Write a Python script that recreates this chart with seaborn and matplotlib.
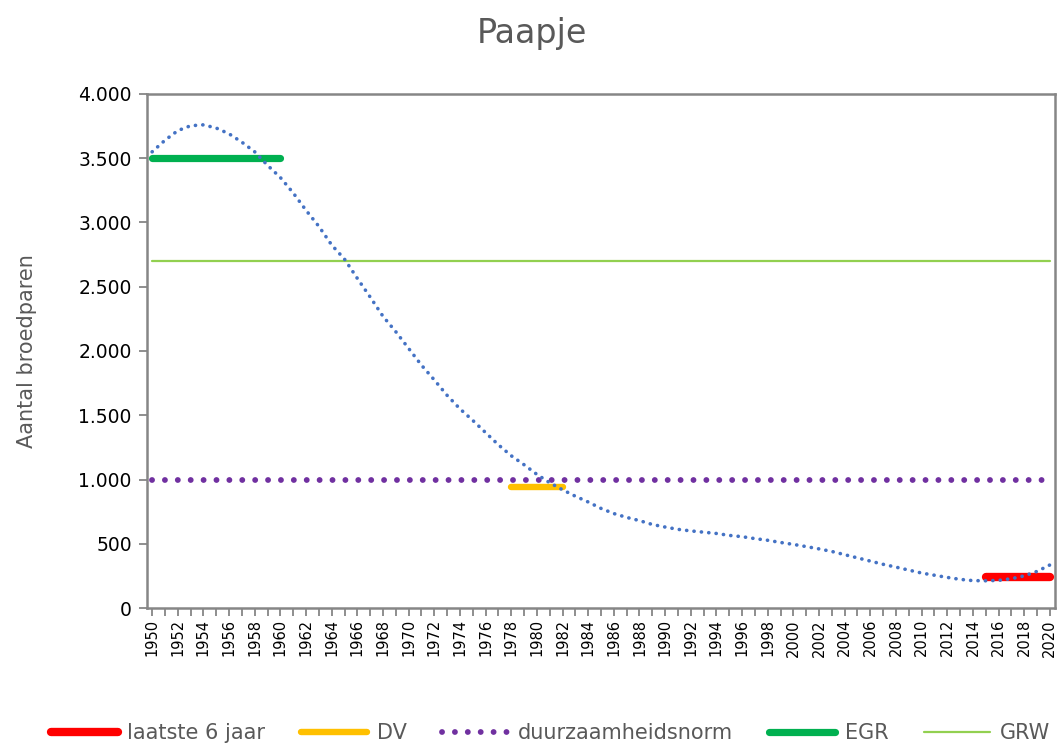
import numpy as np
import pandas as pd
import matplotlib
matplotlib.use('Agg')
import matplotlib.pyplot as plt
from matplotlib.ticker import FuncFormatter, MultipleLocator
import seaborn as sns

# trend line (blue dotted), one value per year
years = list(range(1950, 2021))
trend = [3550, 3640, 3715, 3753, 3760, 3735, 3690, 3625, 3550, 3445,
         3350, 3230, 3095, 2970, 2825, 2715, 2565, 2420, 2270, 2150,
         2020, 1890, 1775, 1655, 1550, 1460, 1365, 1270, 1185, 1115,
         1040, 975, 920, 870, 825, 775, 735, 705, 680, 650,
         630, 612, 600, 590, 580, 565, 555, 540, 527, 510,
         495, 478, 460, 440, 415, 390, 365, 340, 318, 295,
         272, 255, 238, 223, 213, 212, 215, 228, 250, 285,
         335]

# reference levels
last6_years = [2015, 2020]
last6_value = 245
dv_years = [1978, 1982]
dv_value = 940
norm_value = 1000
egr_years = [1950, 1960]
egr_value = 3500
grw_years = [1950, 2020]
grw_value = 2700

trend_df = pd.DataFrame({'jaar': years, 'aantal': trend})
norm_df = pd.DataFrame({'jaar': years, 'aantal': [norm_value] * len(years)})

sns.set_theme(style='white')
plt.rcParams['font.family'] = ['DejaVu Sans']

fig = plt.figure(figsize=(10.63, 7.43), dpi=100)
ax = fig.add_axes([147 / 1063, 1 - 608 / 743, (1055 - 147) / 1063, (608 - 94) / 743])

# trend
sns.lineplot(data=trend_df, x='jaar', y='aantal', ax=ax, color='#4472C4',
             linewidth=2.6, linestyle=(0, (0.05, 2.0)), dash_capstyle='round',
             zorder=5, legend=False)
# GRW
sns.lineplot(x=grw_years, y=[grw_value] * 2, ax=ax, color='#92D050',
             linewidth=1.6, label='GRW', zorder=2)
# EGR
sns.lineplot(x=egr_years, y=[egr_value] * 2, ax=ax, color='#00B050',
             linewidth=5.2, solid_capstyle='round', label='EGR', zorder=3)
# duurzaamheidsnorm
sns.lineplot(data=norm_df, x='jaar', y='aantal', ax=ax, color='#7030A0',
             linewidth=4.2, linestyle=(0, (0.01, 2.2)), dash_capstyle='round',
             label='duurzaamheidsnorm', zorder=3)
# DV
sns.lineplot(x=dv_years, y=[dv_value] * 2, ax=ax, color='#FFC000',
             linewidth=4.6, solid_capstyle='round', label='DV', zorder=4)
# laatste 6 jaar
sns.lineplot(x=last6_years, y=[last6_value] * 2, ax=ax, color='#FF0000',
             linewidth=6.0, solid_capstyle='round', label='laatste 6 jaar', zorder=4)

ax.set_xlim(1949.6, 2020.4)
ax.set_ylim(0, 4000)
ax.yaxis.set_major_locator(MultipleLocator(500))
ax.yaxis.set_major_formatter(FuncFormatter(lambda v, p: f'{int(v):,}'.replace(',', '.')))
ax.set_xticks(list(range(1950, 2021, 2)))
ax.set_xticks(list(range(1951, 2020, 2)), minor=True)
ax.tick_params(axis='x', which='both', direction='out', length=6, width=1.3,
               color='#868686', labelsize=10.5, labelcolor='black', rotation=90, pad=2,
               bottom=True)
ax.tick_params(axis='y', direction='out', length=6, width=1.3, color='#868686',
               labelsize=13.5, labelcolor='black', left=True, pad=5)
for sp in ax.spines.values():
    sp.set_color('#868686')
    sp.set_linewidth(1.8)

ax.set_xlabel('')
ax.set_ylabel('Aantal broedparen', fontsize=15, color='#595959', labelpad=30)
fig.text(0.5, 1 - 33 / 743, 'Paapje', ha='center', va='center', fontsize=24,
         color='#595959')

handles, labels = ax.get_legend_handles_labels()
order = ['laatste 6 jaar', 'DV', 'duurzaamheidsnorm', 'EGR', 'GRW']
hmap = dict(zip(labels, handles))
if ax.legend_:
    ax.legend_.remove()
fig.legend([hmap[k] for k in order], order, loc='center', ncol=5,
           bbox_to_anchor=(0.518, 1 - 733 / 743), frameon=False,
           prop={'size': 15}, labelcolor='#595959', handlelength=3.2,
           handletextpad=0.45, columnspacing=1.7)

fig.savefig('out.png', dpi=100)
